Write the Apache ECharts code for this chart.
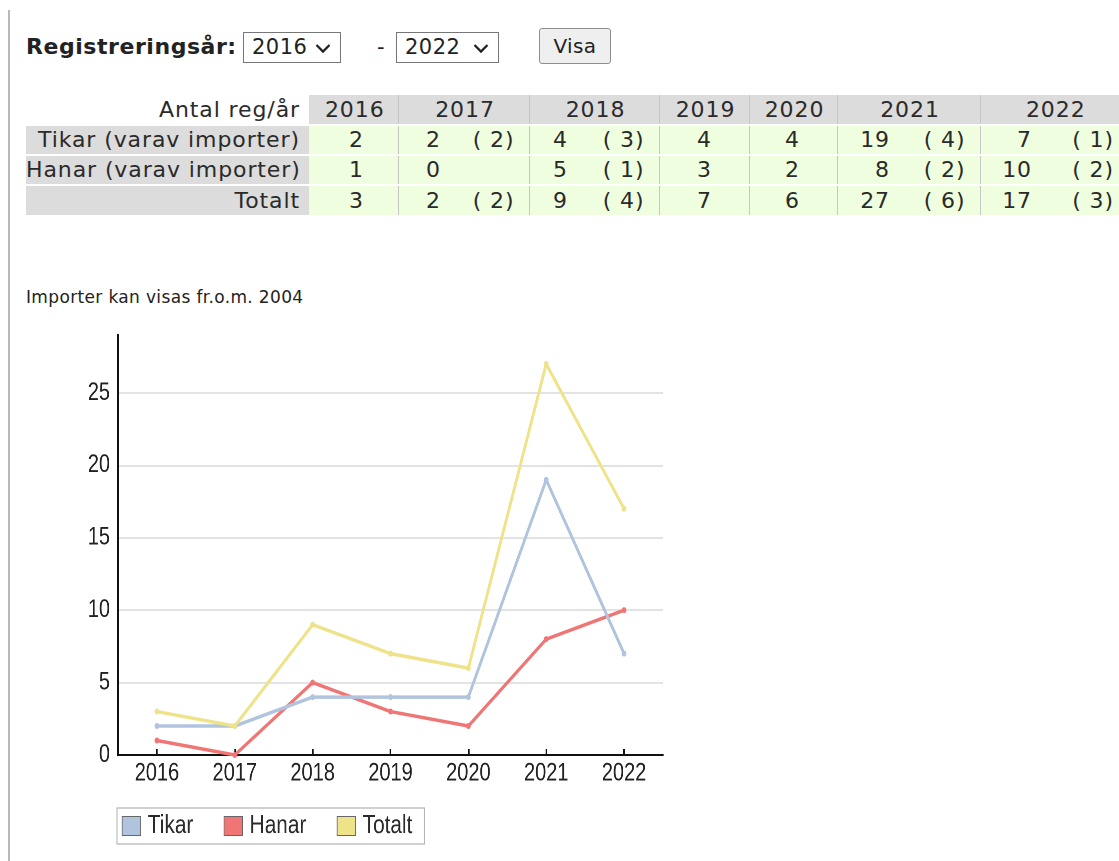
<!DOCTYPE html>
<html>
<head>
<meta charset="utf-8">
<script src="https://cdn.jsdelivr.net/npm/echarts@6/dist/echarts.min.js"></script>
<style>
html,body{margin:0;padding:0;width:1119px;height:861px;overflow:hidden;background:#fff;
  font-family:"DejaVu Sans",Verdana,sans-serif;color:#222;}
#vline{position:absolute;left:8px;top:10px;width:2px;height:851px;background:#b8b8b8;}
.abs{position:absolute;}
#lbl{left:26px;top:33px;font-size:22px;font-weight:bold;line-height:28px;white-space:nowrap;letter-spacing:0.55px;}
.sel{top:32px;height:31px;border:1px solid #777;box-sizing:border-box;font-size:21px;line-height:29px;
  padding-left:8px;background:#fff;white-space:nowrap;letter-spacing:0.5px;}
.sel svg{position:absolute;right:9px;top:10px;}
#dash{left:377px;top:33px;font-size:21px;line-height:28px;}
#btn{left:539px;top:28px;width:72px;height:36px;box-sizing:border-box;background:#efefef;border:1px solid #8f8f8f;
  border-radius:3px;font-size:20px;line-height:34px;text-align:center;letter-spacing:0.4px;}
#tbl{position:absolute;left:26px;top:95px;border-collapse:collapse;table-layout:fixed;width:1102px;font-size:22px;color:#2a2a2a;}
#tbl td{box-sizing:border-box;padding:0;white-space:nowrap;overflow:hidden;height:30px;line-height:28px;letter-spacing:0.9px;}
#tbl td.lab{background:#dcdcdc;text-align:right;padding-right:9px;}
#tbl td.hlab{background:#fff;text-align:right;padding-right:9px;}
#tbl td.yh{background:#dcdcdc;text-align:center;padding-left:3px;}
#tbl td.v{background:#effedf;text-align:right;padding-right:17px;}
#tbl td.i{background:#effedf;text-align:right;padding-right:14px;}
#tbl td.sep{border-left:1px solid #c6c6c6;}
#tbl tr.b td{border-top:2px solid #fff;}
#note{left:26px;top:286px;font-size:17px;line-height:22px;white-space:nowrap;letter-spacing:0.35px;}
#chart{position:absolute;left:0;top:320px;width:875px;height:541px;transform:scaleX(0.8);transform-origin:0 0;}
</style>
</head>
<body>
<div id="vline"></div>
<div id="lbl" class="abs">Registreringsår:</div>
<div class="abs sel" id="s1" style="left:243px;width:98px;">2016<svg width="16" height="11" viewBox="0 0 16 11"><polyline points="1.5,2 8,8.5 14.5,2" fill="none" stroke="#222" stroke-width="2.3"/></svg></div>
<div id="dash" class="abs">-</div>
<div class="abs sel" id="s2" style="left:396px;width:103px;">2022<svg width="16" height="11" viewBox="0 0 16 11"><polyline points="1.5,2 8,8.5 14.5,2" fill="none" stroke="#222" stroke-width="2.3"/></svg></div>
<div id="btn" class="abs">Visa</div>
<table id="tbl"></table>
<div id="note" class="abs">Importer kan visas fr.o.m. 2004</div>
<div id="chart"></div>
<script>
// ---- data ----
const years = ['2016', '2017', '2018', '2019', '2020', '2021', '2022'];
const tikar = [2, 2, 4, 4, 4, 19, 7];
const tikarImport = [null, 2, 3, null, null, 4, 1];
const hanar = [1, 0, 5, 3, 2, 8, 10];
const hanarImport = [null, null, 1, null, null, 2, 2];
const totalt = [3, 2, 9, 7, 6, 27, 17];
const totaltImport = [null, 2, 4, null, null, 6, 3];
const headerLabel = 'Antal reg/år';
const rowLabels = ['Tikar (varav importer)', 'Hanar (varav importer)', 'Totalt'];
const seriesNames = ['Tikar', 'Hanar', 'Totalt'];
const yTickInterval = 5;

// ---- table layout (widths only) ----
const labelColWidth = 283;
const valueColWidths = [72, 60, 56, 70, 68, 70, 69];
const importColWidths = [17, 71, 74, 20, 20, 73, 79];

(function buildTable() {
  const t = document.getElementById('tbl');
  let html = '<colgroup><col style="width:' + labelColWidth + 'px">';
  years.forEach((y, k) => {
    html += '<col style="width:' + valueColWidths[k] + 'px"><col style="width:' + importColWidths[k] + 'px">';
  });
  html += '</colgroup>';
  html += '<tr><td class="hlab">' + headerLabel + '</td>';
  years.forEach((y, k) => {
    html += '<td colspan="2" class="yh' + (k > 0 ? ' sep' : '') + '">' + y + '</td>';
  });
  html += '</tr>';
  const rows = [[tikar, tikarImport], [hanar, hanarImport], [totalt, totaltImport]];
  rows.forEach((r, ri) => {
    html += '<tr class="b"><td class="lab">' + rowLabels[ri] + '</td>';
    years.forEach((y, k) => {
      const imp = r[1][k];
      html += '<td class="v' + (k > 0 ? ' sep' : '') + '">' + r[0][k] + '</td>';
      html += '<td class="i">' + (imp === null ? '' : '(\u00a0' + imp + ')') + '</td>';
    });
    html += '</tr>';
  });
  t.innerHTML = html;
})();

// ---- chart (container is horizontally compressed by CSS, like the original image) ----
const chart = echarts.init(document.getElementById('chart'), null, {renderer: 'canvas', devicePixelRatio: 2});
const font = '"Liberation Sans",Arial,sans-serif';
const colors = ['#b0c4de', '#f07575', '#efe38a'];
const option = {
  animation: false,
  color: colors,
  grid: {left: 147.5, top: 15, width: 681.25, height: 420, containLabel: false},
  xAxis: {
    type: 'category',
    data: years,
    boundaryGap: true,
    axisLine: {show: true, lineStyle: {color: '#111', width: 2}},
    axisTick: {show: true, alignWithLabel: true, inside: true, length: 6, lineStyle: {color: '#111', width: 2}},
    axisLabel: {fontFamily: font, fontSize: 25, color: '#222', margin: 6},
    splitLine: {show: false}
  },
  yAxis: {
    type: 'value',
    min: 0,
    max: 29,
    interval: yTickInterval,
    axisLine: {show: true, lineStyle: {color: '#111', width: 2.5}},
    axisTick: {show: false},
    axisLabel: {fontFamily: font, fontSize: 25, color: '#222', margin: 10, showMaxLabel: false},
    splitLine: {show: true, showMinLine: false, showMaxLine: false, lineStyle: {color: '#dadada', width: 1.5}}
  },
  legend: {
    left: 146.25,
    top: 488,
    orient: 'horizontal',
    data: seriesNames,
    icon: 'rect',
    itemWidth: 23,
    itemHeight: 19,
    itemGap: 38,
    padding: [5, 15, 5, 6],
    borderColor: '#b5b5b5',
    borderWidth: 1.2,
    itemStyle: {borderColor: '#666', borderWidth: 1},
    textStyle: {fontFamily: font, fontSize: 26, color: '#2a2a2a', padding: [0, 0, 0, 4]}
  },
  series: [
    {name: seriesNames[0], type: 'line', data: tikar, z: 3, symbol: 'circle', symbolSize: 6,
      lineStyle: {width: 3.5, color: colors[0]}, itemStyle: {color: colors[0]}},
    {name: seriesNames[1], type: 'line', data: hanar, z: 2, symbol: 'circle', symbolSize: 6,
      lineStyle: {width: 3.5, color: colors[1]}, itemStyle: {color: colors[1]}},
    {name: seriesNames[2], type: 'line', data: totalt, z: 4, symbol: 'circle', symbolSize: 6,
      lineStyle: {width: 3.5, color: colors[2]}, itemStyle: {color: colors[2]}}
  ]
};
chart.setOption(option);
</script>
</body>
</html>
